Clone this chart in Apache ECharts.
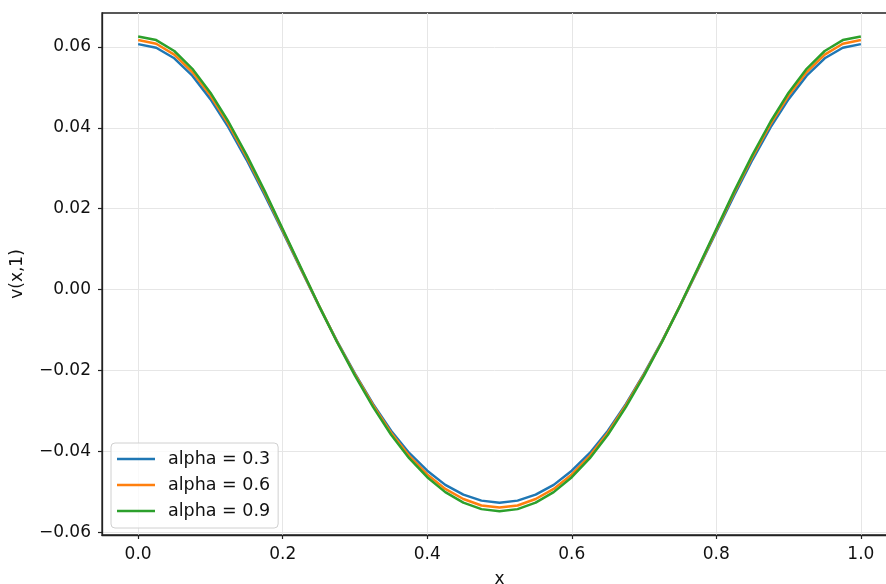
<!DOCTYPE html>
<html>
<head>
<meta charset="utf-8">
<script src="https://cdn.jsdelivr.net/npm/echarts@6/dist/echarts.min.js"></script>
<style>
  html, body { margin: 0; padding: 0; background: #fff; }
  #chart { width: 886px; height: 584px; }
</style>
</head>
<body>
<div id="chart"></div>
<script>
// x 网格点
const xs = [0, 0.025, 0.05, 0.075, 0.1, 0.125, 0.15, 0.175, 0.2, 0.225,
    0.25, 0.275, 0.3, 0.325, 0.35, 0.375, 0.4, 0.425, 0.45, 0.475,
    0.5, 0.525, 0.55, 0.575, 0.6, 0.625, 0.65, 0.675, 0.7, 0.725,
    0.75, 0.775, 0.8, 0.825, 0.85, 0.875, 0.9, 0.925, 0.95, 0.975, 1];

// v(x,1)，读图估计
const alpha03 = [0.0607, 0.0598, 0.0572, 0.0529, 0.0471, 0.0401, 0.0321, 0.0234, 0.0143, 0.0051,
    -0.0040, -0.0127, -0.0208, -0.0283, -0.0349, -0.0404, -0.0448, -0.0483, -0.0507, -0.0522,
    -0.0527, -0.0522, -0.0507, -0.0483, -0.0448, -0.0404, -0.0349, -0.0283, -0.0208, -0.0127,
    -0.0040, 0.0051, 0.0143, 0.0234, 0.0321, 0.0401, 0.0471, 0.0529, 0.0572, 0.0598, 0.0607];
const alpha06 = [0.0617, 0.0608, 0.0581, 0.0538, 0.0480, 0.0409, 0.0328, 0.0240, 0.0147, 0.0053,
    -0.0039, -0.0128, -0.0210, -0.0286, -0.0354, -0.0411, -0.0457, -0.0493, -0.0518, -0.0534,
    -0.0539, -0.0534, -0.0518, -0.0493, -0.0457, -0.0411, -0.0354, -0.0286, -0.0210, -0.0128,
    -0.0039, 0.0053, 0.0147, 0.0240, 0.0328, 0.0409, 0.0480, 0.0538, 0.0581, 0.0608, 0.0617];
const alpha09 = [0.0626, 0.0617, 0.0590, 0.0546, 0.0487, 0.0415, 0.0333, 0.0244, 0.0150, 0.0055,
    -0.0039, -0.0129, -0.0213, -0.0290, -0.0359, -0.0417, -0.0464, -0.0501, -0.0527, -0.0543,
    -0.0548, -0.0543, -0.0527, -0.0501, -0.0464, -0.0417, -0.0359, -0.0290, -0.0213, -0.0129,
    -0.0039, 0.0055, 0.0150, 0.0244, 0.0333, 0.0415, 0.0487, 0.0546, 0.0590, 0.0617, 0.0626];

const seriesNames = ["alpha = 0.3", "alpha = 0.6", "alpha = 0.9"];
const seriesColors = ["#1f77b4", "#ff7f0e", "#2ca02c"];

const xTicks = [0, 0.2, 0.4, 0.6, 0.8, 1.0];
const yTicks = [-0.06, -0.04, -0.02, 0, 0.02, 0.04, 0.06];

const FONT = "DejaVu Sans";
const minus = s => s.replace("-", "\u2212");

const makeLine = (name, ys, color) => ({
    name: name,
    type: "line",
    data: xs.map((x, i) => [x, ys[i]]),
    symbol: "none",
    smooth: false,
    lineStyle: { color: color, width: 2.5 },
    itemStyle: { color: color },
    animation: false
});

const chart = echarts.init(document.getElementById("chart"));

const option = {
    backgroundColor: "#fff",
    animation: false,
    textStyle: { fontFamily: FONT },
    grid: {
        left: 102,
        top: 13,
        width: 795,
        height: 522,
        outerBoundsMode: "none",
        containLabel: false,
        show: true,
        borderColor: "#222",
        borderWidth: 1.3,
        backgroundColor: "transparent"
    },
    legend: {
        left: 111,
        top: 443,
        orient: "vertical",
        icon: "rect",
        itemWidth: 38,
        itemHeight: 2.5,
        itemGap: 8,
        padding: [7, 8, 8, 6],
        borderColor: "#d0d0d0",
        borderWidth: 1,
        borderRadius: 4,
        backgroundColor: "rgba(255,255,255,0.8)",
        textStyle: {
            fontFamily: FONT,
            fontSize: 17.5,
            color: "#111",
            padding: [0, 0, 0, 8]
        },
        data: seriesNames
    },
    xAxis: {
        type: "value",
        min: -0.05,
        max: 1.05,
        name: "x",
        nameLocation: "middle",
        nameGap: 36,
        nameTextStyle: { fontFamily: FONT, fontSize: 17, color: "#111" },
        axisLine: { show: true, onZero: false, lineStyle: { color: "#222", width: 1.3 } },
        axisTick: {
            show: true,
            length: 4,
            inside: false,
            customValues: xTicks,
            lineStyle: { color: "#222", width: 1.2 }
        },
        axisLabel: {
            customValues: xTicks,
            margin: 11,
            fontFamily: FONT,
            fontSize: 17,
            color: "#111",
            formatter: v => minus(v.toFixed(1))
        },
        splitLine: { show: true, lineStyle: { color: "#e6e6e6", width: 1 } }
    },
    yAxis: {
        type: "value",
        min: -0.0607,
        max: 0.0684,
        name: "v(x,1)",
        nameLocation: "middle",
        nameGap: 76,
        nameRotate: 90,
        nameTextStyle: { fontFamily: FONT, fontSize: 17, color: "#111" },
        axisLine: { show: true, onZero: false, lineStyle: { color: "#222", width: 1.3 } },
        axisTick: {
            show: true,
            length: 4,
            inside: false,
            customValues: yTicks,
            lineStyle: { color: "#222", width: 1.2 }
        },
        axisLabel: {
            customValues: yTicks,
            margin: 11,
            fontFamily: FONT,
            fontSize: 17,
            color: "#111",
            formatter: v => minus(v.toFixed(2))
        },
        splitLine: { show: true, lineStyle: { color: "#e6e6e6", width: 1 } }
    },
    series: [
        makeLine(seriesNames[0], alpha03, seriesColors[0]),
        makeLine(seriesNames[1], alpha06, seriesColors[1]),
        makeLine(seriesNames[2], alpha09, seriesColors[2])
    ]
};

chart.setOption(option);
</script>
</body>
</html>
